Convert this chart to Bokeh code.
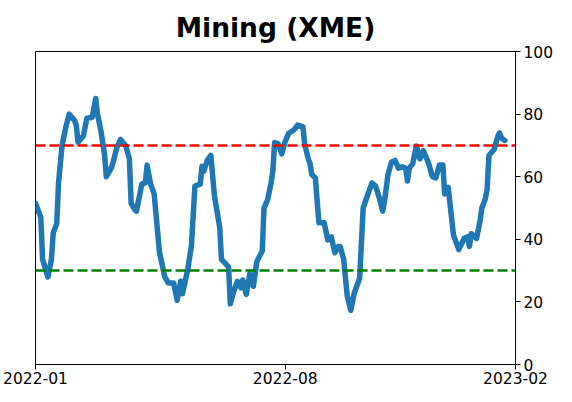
from bokeh.plotting import figure
from bokeh.models import Range1d, FixedTicker, Span
from bokeh.embed import file_html
from bokeh.resources import INLINE

# trading-day index (0 = first session of 2022) and indicator values
day_index = [0, 3, 4, 7, 9, 10, 12, 13, 15, 17, 19, 22, 23, 24, 27, 29, 32, 34, 35, 37,
             39, 40, 43, 44, 46, 48, 51, 53, 54, 56, 57, 60, 62, 63, 65, 67, 70, 73, 75, 78,
             80, 82, 83, 86, 88, 90, 93, 94, 95, 97, 99, 101, 104, 105, 109, 110, 112, 114, 116, 117,
             119, 121, 122, 123, 125, 128, 129, 131, 133, 134, 135, 137, 139, 141, 143, 146, 148, 151, 152, 154,
             155, 156, 158, 160, 163, 165, 167, 169, 171, 172, 174, 176, 178, 180, 183, 185, 188, 190, 192, 194,
             196, 197, 199, 201, 203, 205, 207, 209, 210, 211, 213, 215, 217, 219, 222, 224, 226, 228, 230, 231,
             233, 236, 239, 242, 244, 245, 246, 249, 251, 252, 254, 255, 256, 259, 261, 262, 263, 265]
values = [51.5, 47, 33.6, 28, 33.6, 42, 45, 58, 70, 75.5, 80, 78, 76.5, 71, 73, 78.7, 79, 85, 80, 74.4,
          67, 60, 63, 65, 69.4, 71.9, 69.8, 65.7, 51.5, 49.5, 49, 57.6, 58, 63.7, 57.6, 54.5, 35.8, 28, 26, 26,
          20.5, 26.6, 22.6, 30.6, 37.7, 57, 57.6, 63.3, 61.8, 65.2, 66.8, 54, 43.8, 33.6, 31.2, 19.4, 23.5, 26.6, 24.5, 27,
          22.4, 29, 27, 25, 33, 36.2, 50, 52.5, 58, 61.8, 70.9, 70.5, 67.3, 71.3, 73.9, 75, 76.5, 75.9, 70.3, 65.7,
          64.2, 60.7, 59.6, 45.3, 45.3, 39.8, 40.8, 35.7, 37.7, 37.7, 33.6, 21.9, 17.3, 22.9, 27.5, 50, 55, 58, 57, 53.5,
          49, 52, 60.6, 64.7, 65.2, 62.7, 63.2, 62.7, 58.6, 62.7, 64.2, 69.8, 65.7, 68.3, 64.2, 60.1, 59.6, 63.7, 63.7, 54.5,
          56.6, 41.3, 36.7, 40.3, 40.8, 37.7, 41.8, 40.3, 45.9, 50, 53, 56, 66.8, 68.8, 72.9, 74, 72.4, 71.6]

x_tick_pos = [0, 141, 271]
x_tick_labels = ["2022-01", "2022-08", "2023-02"]
y_ticks = [0, 20, 40, 60, 80, 100]
upper_level = 70
lower_level = 30
title_text = "Mining (XME)"

p = figure(width=556, height=386, output_backend="svg", toolbar_location=None,
           y_axis_location="right", x_range=Range1d(0, x_tick_pos[-1]), y_range=Range1d(0, 100),
           title=title_text, min_border_left=35, min_border_right=0, min_border_bottom=0,
           min_border_top=0)

p.title.text_font = "DejaVu Sans"
p.title.text_font_size = "26.5px"
p.title.text_font_style = "bold"
p.title.align = "center"
p.title.text_color = "black"
p.title.text_line_height = 0.6
p.title.standoff = 18

p.line(day_index, values, line_color="#1f77b4", line_width=5.5, line_join="round", line_cap="round")

p.add_layout(Span(location=upper_level, dimension="width", line_color="red",
                  line_width=2.5, line_dash="10 4"))
p.add_layout(Span(location=lower_level, dimension="width", line_color="green",
                  line_width=2.5, line_dash="10 4"))

p.xgrid.visible = False
p.ygrid.visible = False
p.outline_line_color = "black"
p.outline_line_width = 1
p.outline_line_alpha = 1
p.background_fill_color = "white"
p.border_fill_color = "white"

p.xaxis.ticker = FixedTicker(ticks=x_tick_pos)
p.xaxis.major_label_overrides = {pos: lab for pos, lab in zip(x_tick_pos, x_tick_labels)}
p.yaxis.ticker = FixedTicker(ticks=y_ticks)

for ax in (p.xaxis[0], p.yaxis[0]):
    ax.major_label_text_font = "DejaVu Sans"
    ax.major_label_text_font_size = "15.5px"
    ax.major_label_text_color = "black"
    ax.major_tick_out = 5
    ax.major_tick_in = 0
    ax.minor_tick_out = 0
    ax.minor_tick_in = 0
    ax.axis_line_color = "black"
    ax.major_tick_line_color = "black"
    ax.axis_label_standoff = 0

p.xaxis.major_label_standoff = 2
p.yaxis.major_label_standoff = 3

open("out.html", "w").write(file_html(p, INLINE))
